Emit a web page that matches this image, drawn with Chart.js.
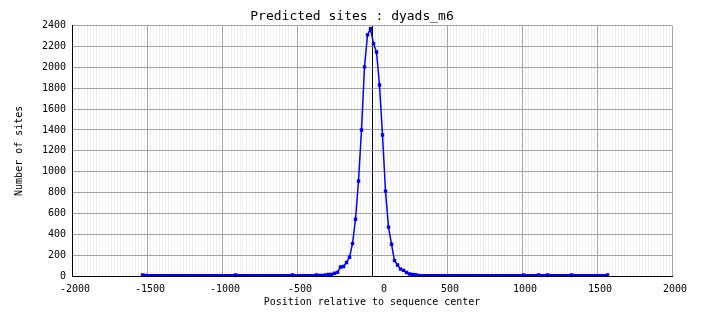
<!DOCTYPE html>
<html>
<head>
<meta charset="utf-8">
<script src="https://cdn.jsdelivr.net/npm/chart.js@4"></script>
<style>
  body { margin: 0; background: #fff; }
  canvas { display: block; }
</style>
</head>
<body>
<canvas id="sitesChart" width="704" height="328"></canvas>
<script>
// position of each bin (bp from sequence center)
const positions = [
  -1530, -1510, -1490, -1470, -1450, -1430, -1410, -1390, -1370, -1350,
  -1330, -1310, -1290, -1270, -1250, -1230, -1210, -1190, -1170, -1150,
  -1130, -1110, -1090, -1070, -1050, -1030, -1010, -990, -970, -950,
  -930, -910, -890, -870, -850, -830, -810, -790, -770, -750,
  -730, -710, -690, -670, -650, -630, -610, -590, -570, -550,
  -530, -510, -490, -470, -450, -430, -410, -390, -370, -350,
  -330, -310, -290, -270, -250, -230, -210, -190, -170, -150,
  -130, -110, -90, -70, -50, -30, -10, 10, 30, 50,
  70, 90, 110, 130, 150, 170, 190, 210, 230, 250,
  270, 290, 310, 330, 350, 370, 390, 410, 430, 450,
  470, 490, 510, 530, 550, 570, 590, 610, 630, 650,
  670, 690, 710, 730, 750, 770, 790, 810, 830, 850,
  870, 890, 910, 930, 950, 970, 990, 1010, 1030, 1050,
  1070, 1090, 1110, 1130, 1150, 1170, 1190, 1210, 1230, 1250,
  1270, 1290, 1310, 1330, 1350, 1370, 1390, 1410, 1430, 1450,
  1470, 1490, 1510, 1530, 1550, 1570
];

// number of predicted sites per bin
const sites = [
  10, 6, 3, 2, 3, 2, 2, 3, 2, 3,
  2, 3, 2, 2, 3, 2, 3, 2, 2, 3,
  2, 3, 2, 3, 2, 2, 3, 2, 3, 2,
  3, 10, 3, 2, 3, 2, 3, 3, 2, 3,
  2, 3, 3, 2, 3, 2, 3, 3, 2, 4,
  10, 3, 4, 3, 3, 4, 3, 4, 10, 5,
  6, 9, 14, 16, 26, 35, 86, 91, 130, 180,
  310, 544, 910, 1400, 2004, 2311, 2370, 2227, 2147, 1831,
  1351, 813, 468, 305, 147, 106, 66, 54, 33, 19,
  14, 12, 6, 4, 3, 3, 4, 3, 3, 2,
  3, 3, 2, 3, 2, 3, 3, 2, 3, 2,
  3, 2, 3, 2, 3, 2, 2, 3, 2, 3,
  2, 3, 2, 3, 2, 3, 3, 10, 3, 2,
  3, 3, 10, 3, 3, 10, 3, 2, 3, 3,
  2, 3, 3, 10, 3, 2, 3, 3, 2, 3,
  3, 2, 3, 3, 4, 10
];

const xMin = -2000, xMax = 2000;
const yMin = 0, yMax = 2400;

const monoFont = "'DejaVu Sans Mono', 'Liberation Mono', monospace";

// center the title on the whole canvas, not on the padded box
const titleCenter = {
  id: "titleCenter",
  afterLayout(chart) {
    if (chart.titleBlock) chart.titleBlock.right = chart.width;
  }
};

const ctx = document.getElementById("sitesChart").getContext("2d");

new Chart(ctx, {
  type: "line",
  data: {
    datasets: [{
      label: "dyads_m6",
      data: positions.map((p, i) => ({ x: p, y: sites[i] })),
      borderColor: "#0000ff",
      backgroundColor: "#0000ff",
      borderWidth: 1.5,
      pointStyle: "rect",
      pointRadius: 2.4,
      pointBorderWidth: 0,
      tension: 0
    }]
  },
  plugins: [titleCenter],
  options: {
    responsive: false,
    animation: false,
    layout: { padding: { left: 0, right: 32, top: 0, bottom: 0 } },
    plugins: {
      legend: { display: false },
      tooltip: { enabled: false },
      title: {
        display: true,
        text: "Predicted sites : dyads_m6",
        color: "#000",
        font: { family: monoFont, size: 13, weight: "normal" },
        padding: { top: 9, bottom: 1 }
      }
    },
    scales: {
      x: {
        type: "linear",
        min: xMin,
        max: xMax,
        afterFit: s => { s.height = 52; },
        border: { color: "#000", width: 1 },
        grid: {
          drawTicks: false,
          lineWidth: 1,
          color: c => {
            const v = c.tick ? c.tick.value : null;
            if (v === 0) return "#000000";
            if (v % 500 === 0) return "#a4a4a4";
            return "#efefef";
          }
        },
        ticks: {
          stepSize: 20,
          autoSkip: false,
          maxRotation: 0,
          padding: 7,
          labelOffset: 3,
          color: "#000",
          font: { family: monoFont, size: 10 },
          callback: v => {
            if (v === 0) return "   0";
            return v % 500 === 0 ? String(v) : "";
          }
        },
        title: {
          display: true,
          text: "Position relative to sequence center",
          color: "#000",
          font: { family: monoFont, size: 10 },
          padding: { top: 0, bottom: 20 }
        }
      },
      y: {
        min: yMin,
        max: yMax,
        afterFit: s => { s.width = 72; },
        border: { color: "#000", width: 1 },
        grid: {
          drawTicks: false,
          color: "#a4a4a4",
          lineWidth: 1
        },
        ticks: {
          stepSize: 200,
          padding: 6,
          color: "#000",
          font: { family: monoFont, size: 10 },
          callback: v => String(v)
        },
        title: {
          display: true,
          text: "Number of sites",
          color: "#000",
          font: { family: monoFont, size: 10 },
          padding: { top: 13, bottom: 0 }
        }
      }
    }
  }
});
</script>
</body>
</html>
